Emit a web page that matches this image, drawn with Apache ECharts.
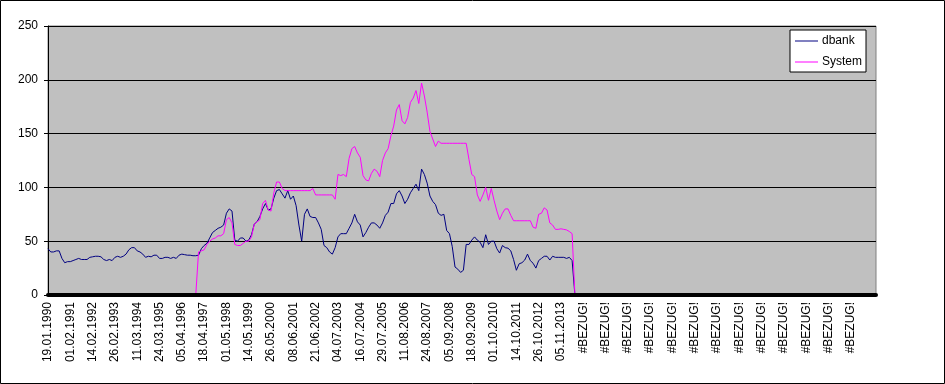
<!DOCTYPE html>
<html>
<head>
<meta charset="utf-8">
<script src="https://cdn.jsdelivr.net/npm/echarts@6/dist/echarts.min.js"></script>
<style>
html,body{margin:0;padding:0;background:#fff;}
#chart{width:945px;height:384px;}
</style>
</head>
<body>
<div id="chart"></div>
<script>
// Tick labels of the category axis (one every pointsPerLabel categories)
const tickLabels = ['19.01.1990','01.02.1991','14.02.1992','26.02.1993','11.03.1994','24.03.1995','05.04.1996','18.04.1997','01.05.1998','14.05.1999','26.05.2000','08.06.2001','21.06.2002','04.07.2003','16.07.2004','29.07.2005','11.08.2006','24.08.2007','05.09.2008','18.09.2009','01.10.2010','14.10.2011','26.10.2012','05.11.2013',
  '#BEZUG!','#BEZUG!','#BEZUG!','#BEZUG!','#BEZUG!','#BEZUG!','#BEZUG!','#BEZUG!','#BEZUG!','#BEZUG!','#BEZUG!','#BEZUG!','#BEZUG!'];
const pointsPerLabel = 8;
const categoryCount = 298;

// dbank values, from category 0
const dbankValues = [43,40,40,41,41,34,30,31,31,32,33,34,33,33,33,35,35.5,36,36,35.5,
  33,32,33,32,35,36,35,36,38,42,44,44,41,40,38,35,36,35.5,37,37,
  34,34,35,35,34,35,34,37,38,37.5,37,37,36.5,36.5,37,43,46,48,53,58,
  60,62,63,65,76,80,78,51,50,53,53,50,51,56,66,68,73,80,85,79,
  80,90,97,98,94,90,97,89,92,83,65,50,75,80,73,72,72,67,61,46,
  44,40,38,44,54,57,57,57,62,67,75,68,65,54,58,63,67,67,65,62,
  67,74,77,85,85,94,97,92,85,89,95,99,103,97,117,112,104,92,87,84,
  76,74,75,60,57,45,26,24,21,23,47,47,51,54,51,49,44,56,47,50,
  50,43,39,46,44,43.5,41,33,23,29,30,32.5,38,32,29.5,25,32,34,36,36,
  32.5,36,35,35,35,35,34,35,32,0];

// System values, starting at category systemStart
const systemStart = 53;
const systemValues = [0,40,41,42,47,50,52,53,55,55,57,70,72,67,47,46,46,48,50,50,
  54,66,68,70,85,88,79,78,95,105,105,99,97,97,97,97,97,97,97,97,
  97,97,99,93,93,93,93,93,93,93,89,112,111,112,110,127,136,138,132,128,
  111,107,106,113,117,115,110,125,132,136,148,157,172,177,162,159,165,179,183,190,
  178,197,185,170,152,145,138,143,141,141,141,141,141,141,141,141,141,141,126,112,
  110,93,87,93,100,88,99,88,78,70,76,80,80,74,69,69,69,69,69,69,
  69,63,62,75,76,81,79,67,65,61,61,61.5,61,60.5,59,57,0];

const yTicks = {min: 0, max: 250, step: 50};

const categories = [];
for (let i = 0; i < categoryCount; i++) categories.push(String(i));
const systemData = [];
for (let i = 0; i < systemStart; i++) systemData.push(null);
systemValues.forEach(v => systemData.push(v));

const FONT = 'Arial, "Liberation Sans", sans-serif';
const chart = echarts.init(document.getElementById('chart'), null, {renderer: 'canvas'});
chart.setOption({
  animation: false,
  backgroundColor: '#ffffff',
  graphic: [{
    type: 'rect', silent: true, z: 100,
    shape: {x: 0.5, y: 0.5, width: 944, height: 383},
    style: {fill: 'none', stroke: '#000', lineWidth: 1}
  }],
  grid: {
    left: 48, right: 69, top: 26, bottom: 89,
    show: true, backgroundColor: '#C0C0C0', borderColor: '#808080', borderWidth: 1
  },
  legend: {
    orient: 'vertical', left: 790, top: 30,
    backgroundColor: '#ffffff', borderColor: '#000', borderWidth: 1,
    padding: [4, 4, 3, 5], itemGap: 7, itemWidth: 23, itemHeight: 1,
    textStyle: {fontFamily: FONT, fontSize: 12, color: '#000', lineHeight: 14, padding: [0, 0, 0, -1]},
    data: [{name: 'dbank', icon: 'rect'}, {name: 'System', icon: 'rect'}]
  },
  xAxis: {
    type: 'category', data: categories, boundaryGap: false, offset: 2, z: 5,
    axisLine: {show: true, lineStyle: {color: '#000', width: 4}},
    axisTick: {show: false},
    splitLine: {show: false},
    axisLabel: {
      rotate: 90, margin: 5, fontFamily: FONT, fontSize: 12, color: '#000',
      interval: function (index) { return index % pointsPerLabel === 0 && index / pointsPerLabel < tickLabels.length; },
      formatter: function (value, index) { const k = Number(value) / pointsPerLabel; return tickLabels[k] || ''; }
    }
  },
  yAxis: {
    type: 'value', min: yTicks.min, max: yTicks.max, interval: yTicks.step,
    axisLine: {show: true, lineStyle: {color: '#000', width: 1}},
    axisTick: {show: true, length: 4, lineStyle: {color: '#000'}},
    splitLine: {show: true, lineStyle: {color: '#000', width: 1}},
    axisLabel: {margin: 10, fontFamily: FONT, fontSize: 12, color: '#000'}
  },
  series: [
    {name: 'dbank', type: 'line', data: dbankValues, symbol: 'none', showSymbol: false,
     lineStyle: {color: '#000080', width: 1}, itemStyle: {color: '#000080'}},
    {name: 'System', type: 'line', data: systemData, symbol: 'none', showSymbol: false,
     lineStyle: {color: '#FF00FF', width: 1}, itemStyle: {color: '#FF00FF'}}
  ]
});
</script>
</body>
</html>
